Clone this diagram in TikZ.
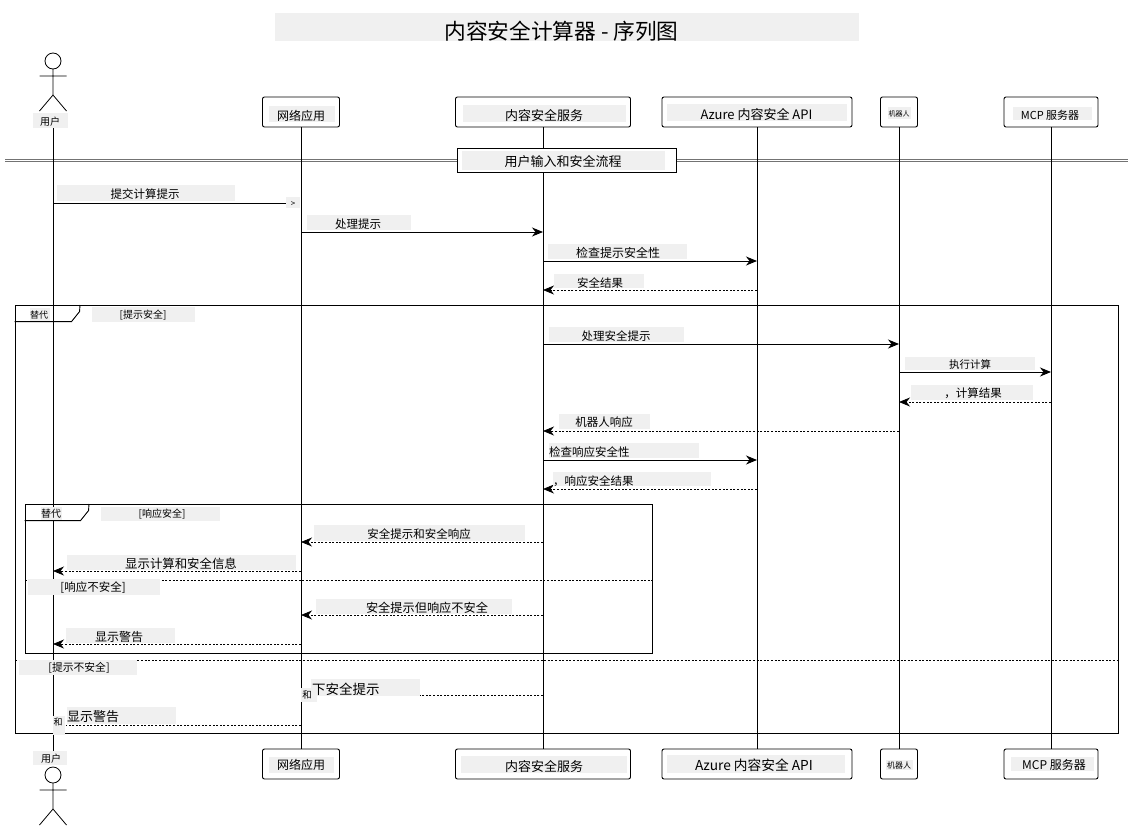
\documentclass[tikz,border=0pt]{standalone}
\usepackage{fontspec}
\setmainfont{Noto Sans CJK SC}
\usetikzlibrary{arrows.meta}
\definecolor{labelgrey}{HTML}{F0F0F0}
\tikzset{
  sz/.style={font=\fontsize{#1pt}{#1pt}\selectfont},
  partbox/.style={draw,fill=white,rounded corners=2pt,line width=.9pt,minimum height=30pt,inner sep=0pt},
  framebox/.style={draw,line width=.9pt,inner sep=0pt},
  callmsg/.style={draw,line width=.9pt,-{Stealth[length=11pt,width=9pt,inset=3.5pt]}},
  backmsg/.style={draw,line width=.8pt,dash pattern=on 2pt off 1.6pt,-{Stealth[length=11pt,width=9pt,inset=3.5pt]}},
  elseline/.style={draw,line width=.8pt,dash pattern=on 2pt off 1.6pt},
  stick/.pic={
    \draw[line width=.8pt] (0,0) circle (8pt);
    \draw[line width=.8pt] (0,8) -- (0,34) (-13.5,15) -- (13.5,15) (-13.5,50) -- (0,34) -- (13.5,50);
  }
}
\begin{document}
\begin{tikzpicture}[x=1pt,y=-1pt]
  \useasboundingbox (0,0) rectangle (1134,830);

  \begin{scope}[every node/.style={partbox}]
    \node[minimum width=77pt]  (webtop)     at (301,112)  {};
    \node[minimum width=175pt] (contenttop) at (543,112)  {};
    \node[minimum width=190pt] (azuretop)   at (757,112)  {};
    \node[minimum width=37pt]  (bottop)     at (899,112)  {};
    \node[minimum width=94pt]  (mcptop)     at (1051,112) {};
    \node[minimum width=77pt]  (webbot)     at (301,764)  {};
    \node[minimum width=175pt] (contentbot) at (543,764)  {};
    \node[minimum width=190pt] (azurebot)   at (757,764)  {};
    \node[minimum width=37pt]  (botbot)     at (899,764)  {};
    \node[minimum width=94pt]  (mcpbot)     at (1051,764) {};
  \end{scope}
  \coordinate (usertop) at (53,128);
  \coordinate (userbot) at (53,751);
  \coordinate (divleft) at (5,160.5);
  \coordinate (divright) at (1128,160.5);

  \path (divleft) edge[draw=black!55,line width=.9pt,double=white,double distance=1.5pt] (divright);

  % lifelines
  \begin{scope}[every edge/.style={draw,line width=.8pt}]
    \path (usertop) edge (userbot);
    \path (webtop) edge (webbot);
    \path (contenttop) edge (contentbot);
    \path (azuretop) edge (azurebot);
    \path (bottop) edge (botbot);
    \path (mcptop) edge (mcpbot);
  \end{scope}

  \pic at (53,61) {stick};
  \pic at (53,775) {stick};

  \foreach \who/\xx in {user/53,web/301,content/543,azure/757,bot/899,mcp/1051}
    \foreach \yy in {203,232,261,290,344,372,402,431,460,489,542,571,615,644,695,725}
      \coordinate (\who\yy) at (\xx,\yy);
  \coordinate (promptend) at (286,203);
  \coordinate (unsafeend) at (420,695);
  \coordinate (warnend) at (66,725);

  \node[framebox,minimum width=1103pt,minimum height=428pt] (outeralt) at (566.5,519) {};
  \node[framebox,minimum width=627pt,minimum height=149pt] (inneralt) at (338.5,578.5) {};
  \draw[line width=.9pt] (outeralt.north west) ++(0,17) -- ++(57,0) -- ++(8,-10) -- (80,305);
  \draw[line width=.9pt] (inneralt.north west) ++(0,17) -- ++(56,0) -- ++(8,-10) -- (89,504);

  \coordinate (outerleft) at (15,660);
  \coordinate (outerright) at (1118,660);
  \coordinate (innerleft) at (25,580);
  \coordinate (innerright) at (652,580);
  \path (outerleft) edge[elseline] (outerright);
  \path (innerleft) edge[elseline] (innerright);

  % messages
  \path (user203) edge[draw,line width=.9pt] (promptend);
  \path (web232) edge[callmsg] (content232);
  \path (content261) edge[callmsg] (azure261);
  \path (azure290) edge[backmsg] (content290);
  \path (content344) edge[callmsg] (bot344);
  \path (bot372) edge[callmsg] (mcp372);
  \path (mcp402) edge[backmsg] (bot402);
  \path (bot431) edge[backmsg] (content431);
  \path (content460) edge[callmsg] (azure460);
  \path (azure489) edge[backmsg] (content489);
  \path (content542) edge[backmsg] (web542);
  \path (web571) edge[backmsg] (user571);
  \path (content615) edge[backmsg] (web615);
  \path (web644) edge[backmsg] (user644);
  \path (content695) edge[elseline] (unsafeend);
  \path (web725) edge[elseline] (warnend);

  \node[draw,fill=white,line width=.9pt,minimum width=219pt,minimum height=24pt,inner sep=0pt] (divbox) at (566.5,160) {};

  % label patches
  \foreach \xa/\ya/\xb/\yb in {
    275/13/859/41, 33/113/68/128, 269/106/335/122, 463/105/626/122, 667/104/847/121,
    888/107/911/119, 1013/107/1092/120, 462/151/665/170,
    57/185/235/201, 286/197/300/208, 307/215/411/230, 548/244/687/259, 554/274/644/288,
    92/307/195/322, 30/308/50/321, 549/327/684/342, 905/357/1035/370, 911/385/1033/400,
    559/414/650/429, 549/443/699/458, 553/472/711/486,
    41/507/62/520, 101/507/220/521, 314/525/525/541, 67/555/296/570, 28/579/160/595,
    316/599/512/614, 66/628/175/643, 19/660/137/675, 311/679/420/696, 301/688/317/702,
    67/707/176/724, 53/716/65/735, 33/751/67/765,
    269/757/334/773, 461/756/627/773, 667/755/845/773, 886/760/913/770, 1011/757/1094/771}
    \fill[labelgrey] (\xa,\ya) rectangle (\xb,\yb);

  \begin{scope}[every node/.style={inner sep=0pt,sz=11.5}]
    \node[sz=21.7] (title) at (561.5,31) {内容安全计算器 - 序列图};
    \node[sz=10] (usertoplabel) at (50,122) {用户};
    \node[sz=12] (weblabel) at (301,116) {网络应用};
    \node[sz=13] (contentlabel) at (544,115) {内容安全服务};
    \node[sz=13] (azurelabel) at (756.5,114) {Azure 内容安全 API};
    \node[sz=7] (botlabel) at (899,114) {机器人};
    \node[sz=11] (mcplabel) at (1050,115) {MCP 服务器};
    \node[sz=13] (divlabel) at (563,162) {用户输入和安全流程};

    \node (submit) at (145,194) {提交计算提示};
    \node[sz=8] (tip) at (293,204) {>};
    \node (process) at (358,224) {处理提示};
    \node[sz=12] (checkprompt) at (618,253) {检查提示安全性};
    \node (saferesult) at (600,283) {安全结果};
    \node[sz=9] (altouter) at (39,315) {替代};
    \node[sz=10] (promptsafe) at (143,315) {[提示安全]};
    \node (processsafe) at (616,336) {处理安全提示};
    \node[sz=10.5] (runcalc) at (970,364) {执行计算};
    \node (calcresult) at (973,393) {，计算结果};
    \node (botreply) at (604,422) {机器人响应};
    \node[anchor=west] (checkreply) at (549,452) {检查响应安全性};
    \node[anchor=west] (replyresult) at (553,481) {，响应安全结果};
    \node[sz=10] (altinner) at (51,514) {替代};
    \node[sz=10] (replysafe) at (162,514) {[响应安全]};
    \node (safeboth) at (419,534) {安全提示和安全响应};
    \node[sz=12.4] (showinfo) at (181,564) {显示计算和安全信息};
    \node (replyunsafe) at (93,588) {[响应不安全]};
    \node[sz=12.2] (safebut) at (427,608) {安全提示但响应不安全};
    \node[sz=12] (warnone) at (119,637) {显示警告};
    \node[sz=10.8] (promptunsafe) at (79,668) {[提示不安全]};
    \node[sz=13.5,anchor=west] (unsafelabel) at (312,689) {下安全提示};
    \node[sz=9.5] (patchweb) at (307,695) {和};
    \node[sz=13,anchor=west] (warntwo) at (67,717) {显示警告};
    \node[sz=9] (patchuser) at (58,722) {和};
    \node[sz=10] (userbotlabel) at (51,759) {用户};
    \node[sz=12] (webbotlabel) at (301,765) {网络应用};
    \node[sz=13] (contentbotlabel) at (544,766) {内容安全服务};
    \node[sz=13.7] (azurebotlabel) at (754,765) {Azure 内容安全 API};
    \node[sz=8] (botbotlabel) at (899,765) {机器人};
    \node[sz=12] (mcpbotlabel) at (1054,765) {MCP 服务器};
  \end{scope}
\end{tikzpicture}
\end{document}
